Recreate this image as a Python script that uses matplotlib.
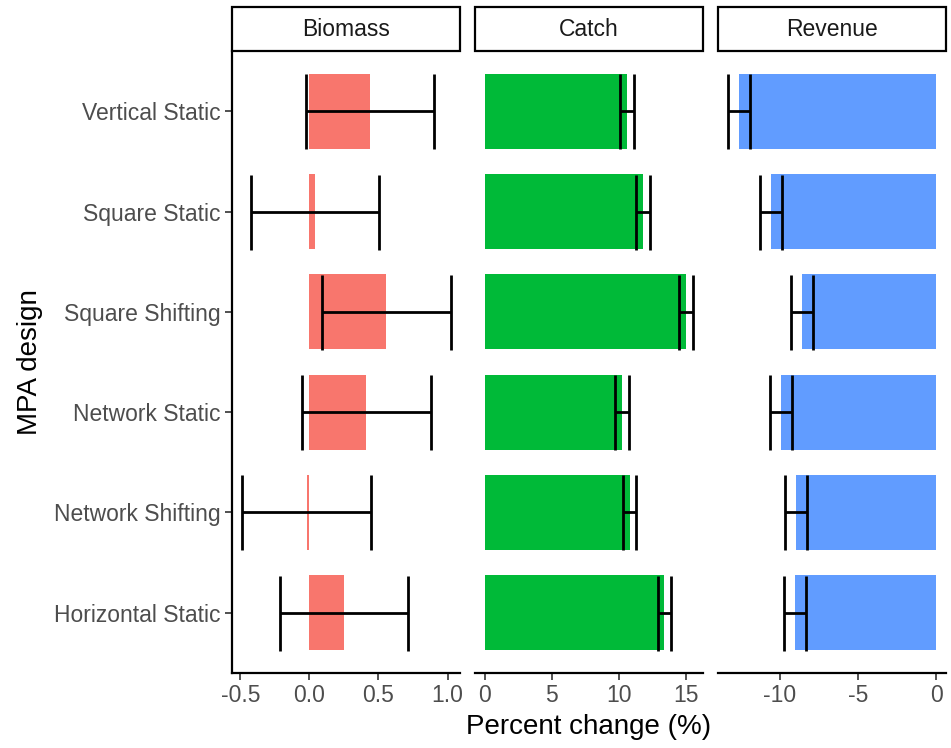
import matplotlib
matplotlib.use("Agg")
import matplotlib.pyplot as plt
from matplotlib.patches import Rectangle

plt.rcParams['font.family'] = ['Liberation Sans', 'DejaVu Sans']

# --- DATA ---
designs = ['Vertical Static', 'Square Static', 'Square Shifting',
           'Network Static', 'Network Shifting', 'Horizontal Static']
metrics = ['Biomass', 'Catch', 'Revenue']
colors = ['#F8766D', '#00BA38', '#619CFF']

biomass = [0.44, 0.042, 0.558, 0.411, -0.02, 0.249]
biomass_err = [0.464, 0.464, 0.466, 0.467, 0.465, 0.464]
catch = [10.6, 11.84, 15.0, 10.28, 10.82, 13.41]
catch_err = [0.54, 0.52, 0.52, 0.52, 0.50, 0.50]
revenue = [-12.63, -10.56, -8.59, -9.94, -8.99, -9.04]
revenue_err = [0.70, 0.69, 0.69, 0.68, 0.70, 0.70]

values = [biomass, catch, revenue]
errors = [biomass_err, catch_err, revenue_err]
xlims = [(-0.56, 1.09), (-0.74, 16.3), (-13.97, 0.64)]
xticks = [[-0.5, 0.0, 0.5, 1.0], [0, 5, 10, 15], [-10, -5, 0]]
xticklabels = [['-0.5', '0.0', '0.5', '1.0'], ['0', '5', '10', '15'], ['-10', '-5', '0']]

# --- FIGURA ---
W, H = 951, 748
fig = plt.figure(figsize=(W / 100, H / 100), dpi=100)

panel_x = [(232, 460), (475, 703), (718, 946)]
top_px, bot_px = 51, 673
strip_top = 7

ypos = list(range(len(designs)))[::-1]  # first design at top

for i, m in enumerate(metrics):
    x0, x1 = panel_x[i]
    ax = fig.add_axes([x0 / W, 1 - bot_px / H, (x1 - x0) / W, (bot_px - top_px) / H])
    ax.barh(ypos, values[i], height=0.75, color=colors[i], zorder=2)
    ax.errorbar(values[i], ypos, xerr=errors[i], fmt='none', ecolor='black',
                elinewidth=2.0, capsize=27, capthick=2.0, zorder=3)
    ax.set_xlim(*xlims[i])
    ax.set_ylim(-0.6, len(designs) - 0.4)
    ax.set_xticks(xticks[i])
    ax.set_xticklabels(xticklabels[i])
    for side in ['top', 'right']:
        ax.spines[side].set_visible(False)
    ax.spines['bottom'].set_linewidth(1.6)
    ax.spines['left'].set_linewidth(1.6)
    ax.tick_params(axis='x', length=5, width=1.2, color='#333333',
                   labelsize=16.5, labelcolor='#4D4D4D', pad=3)
    if i == 0:
        ax.set_yticks(ypos)
        ax.set_yticklabels(designs)
        ax.tick_params(axis='y', length=5, width=1.2, color='#333333',
                       labelsize=16.5, labelcolor='#4D4D4D', pad=3)
    else:
        ax.spines['left'].set_visible(False)
        ax.set_yticks([])

    # strip
    fig.patches.append(Rectangle((x0 / W, 1 - top_px / H), (x1 - x0) / W,
                                 (top_px - strip_top) / H, transform=fig.transFigure,
                                 facecolor='white', edgecolor='black', linewidth=1.6))
    fig.text((x0 + x1) / 2 / W, 1 - (top_px + strip_top) / 2 / H, m,
             ha='center', va='center', fontsize=16.5, color='#1A1A1A')

fig.text((232 + 946) / 2 / W, 1 - 727 / H, 'Percent change (%)',
         ha='center', va='center', fontsize=20)
fig.text(30 / W, 1 - 362 / H, 'MPA design', ha='center', va='center',
         rotation=90, fontsize=20)

plt.savefig('out.png', dpi=100)
